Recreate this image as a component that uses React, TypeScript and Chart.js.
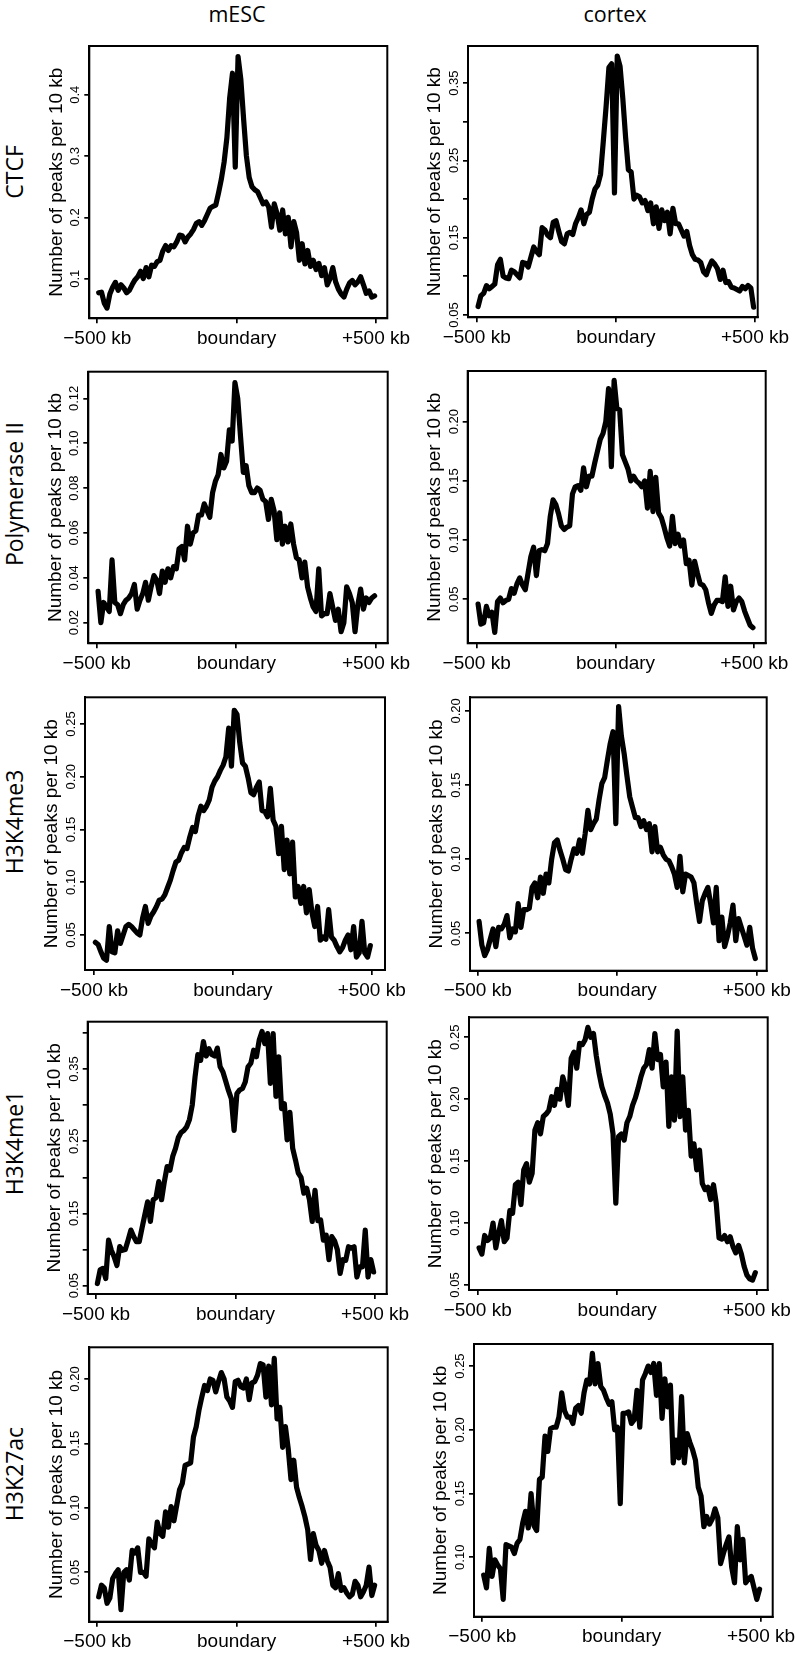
import React, { useEffect, useRef } from 'react';
import { Chart, registerables } from 'chart.js';

Chart.register(...registerables);

// ---------------- data ----------------
const BIN_KB = 10;
const BIN_COUNT = 100;
// bin centres, -495 kb ... +495 kb
const binCentersKb: number[] = Array.from({ length: BIN_COUNT }, (_, i) => -500 + BIN_KB / 2 + BIN_KB * i);

const xTickValues = [-500, 0, 500];
const xTickLabels = ['\u2212500 kb', 'boundary', '+500 kb'];
const columnTitles = ['mESC', 'cortex'];
const rowLabels = ['CTCF', 'Polymerase II', 'H3K4me3', 'H3K4me1', 'H3K27ac'];
const yAxisTitle = 'Number of peaks per 10 kb';

const ctcfMesc = [
  0.077, 0.078, 0.060, 0.052, 0.075, 0.086, 0.094, 0.081, 0.090, 0.085,
  0.077, 0.081, 0.090, 0.098, 0.103, 0.112, 0.100, 0.118, 0.103, 0.122,
  0.120, 0.128, 0.130, 0.145, 0.154, 0.146, 0.154, 0.152, 0.160, 0.171,
  0.170, 0.160, 0.168, 0.173, 0.180, 0.190, 0.193, 0.187, 0.195, 0.205,
  0.215, 0.218, 0.220, 0.240, 0.262, 0.290, 0.330, 0.395, 0.435, 0.282,
  0.462, 0.425, 0.360, 0.300, 0.265, 0.250, 0.245, 0.242, 0.232, 0.222,
  0.225, 0.217, 0.184, 0.222, 0.206, 0.179, 0.212, 0.173, 0.200, 0.152,
  0.193, 0.175, 0.130, 0.157, 0.124, 0.146, 0.120, 0.130, 0.115, 0.125,
  0.105, 0.118, 0.090, 0.100, 0.118, 0.095, 0.083, 0.075, 0.070, 0.083,
  0.093, 0.097, 0.090, 0.095, 0.103, 0.090, 0.076, 0.080, 0.070, 0.072,
];
const ctcfCortex = [
  0.061, 0.075, 0.078, 0.088, 0.084, 0.087, 0.090, 0.115, 0.122, 0.100,
  0.098, 0.097, 0.108, 0.106, 0.102, 0.098, 0.118, 0.117, 0.112, 0.125,
  0.138, 0.132, 0.128, 0.163, 0.160, 0.153, 0.150, 0.170, 0.172, 0.158,
  0.145, 0.142, 0.155, 0.157, 0.154, 0.168, 0.176, 0.186, 0.168, 0.180,
  0.183, 0.200, 0.213, 0.218, 0.232, 0.275, 0.320, 0.370, 0.375, 0.208,
  0.385, 0.372, 0.330, 0.280, 0.238, 0.235, 0.200, 0.205, 0.203, 0.195,
  0.198, 0.185, 0.195, 0.168, 0.190, 0.162, 0.186, 0.172, 0.183, 0.155,
  0.188, 0.168, 0.168, 0.160, 0.152, 0.158, 0.140, 0.128, 0.122, 0.121,
  0.118, 0.106, 0.102, 0.112, 0.120, 0.116, 0.110, 0.096, 0.108, 0.092,
  0.093, 0.086, 0.085, 0.083, 0.081, 0.087, 0.084, 0.088, 0.085, 0.060,
];
const polIIMesc = [
  0.034, 0.020, 0.029, 0.027, 0.025, 0.048, 0.029, 0.028, 0.024, 0.028,
  0.030, 0.031, 0.033, 0.037, 0.026, 0.030, 0.033, 0.038, 0.030, 0.036,
  0.041, 0.039, 0.033, 0.043, 0.038, 0.044, 0.040, 0.045, 0.044, 0.053,
  0.054, 0.048, 0.063, 0.055, 0.060, 0.061, 0.068, 0.068, 0.073, 0.070,
  0.067, 0.078, 0.083, 0.086, 0.095, 0.089, 0.092, 0.106, 0.101, 0.127,
  0.120, 0.103, 0.087, 0.090, 0.081, 0.078, 0.078, 0.080, 0.079, 0.075,
  0.074, 0.066, 0.075, 0.070, 0.057, 0.069, 0.055, 0.063, 0.056, 0.064,
  0.055, 0.049, 0.048, 0.040, 0.047, 0.036, 0.031, 0.027, 0.025, 0.044,
  0.023, 0.024, 0.024, 0.033, 0.027, 0.021, 0.026, 0.016, 0.020, 0.036,
  0.033, 0.029, 0.016, 0.028, 0.035, 0.026, 0.031, 0.029, 0.031, 0.032,
];
const polIICortex = [
  0.046, 0.029, 0.030, 0.044, 0.036, 0.039, 0.022, 0.048, 0.051, 0.047,
  0.049, 0.050, 0.059, 0.055, 0.063, 0.068, 0.062, 0.058, 0.072, 0.086,
  0.094, 0.070, 0.091, 0.092, 0.091, 0.097, 0.120, 0.134, 0.130, 0.122,
  0.112, 0.109, 0.111, 0.112, 0.139, 0.145, 0.146, 0.142, 0.161, 0.145,
  0.154, 0.154, 0.165, 0.175, 0.185, 0.190, 0.200, 0.228, 0.162, 0.235,
  0.211, 0.210, 0.172, 0.166, 0.160, 0.150, 0.154, 0.150, 0.148, 0.145,
  0.150, 0.127, 0.158, 0.124, 0.153, 0.123, 0.119, 0.111, 0.102, 0.095,
  0.120, 0.097, 0.105, 0.095, 0.100, 0.080, 0.083, 0.062, 0.082, 0.072,
  0.063, 0.062, 0.058, 0.047, 0.038, 0.045, 0.049, 0.049, 0.048, 0.069,
  0.044, 0.061, 0.041, 0.048, 0.051, 0.048, 0.040, 0.034, 0.028, 0.026,
];
const h3k4me3Mesc = [
  0.043, 0.041, 0.034, 0.028, 0.026, 0.058, 0.034, 0.033, 0.054, 0.042,
  0.050, 0.058, 0.060, 0.058, 0.055, 0.052, 0.050, 0.066, 0.077, 0.061,
  0.068, 0.072, 0.077, 0.083, 0.084, 0.088, 0.095, 0.102, 0.111, 0.119,
  0.121, 0.128, 0.133, 0.132, 0.143, 0.152, 0.148, 0.163, 0.172, 0.168,
  0.172, 0.178, 0.190, 0.196, 0.200, 0.206, 0.211, 0.219, 0.246, 0.210,
  0.263, 0.259, 0.232, 0.213, 0.210, 0.199, 0.185, 0.183, 0.190, 0.195,
  0.168, 0.167, 0.162, 0.189, 0.159, 0.153, 0.127, 0.153, 0.112, 0.140,
  0.108, 0.138, 0.086, 0.096, 0.080, 0.096, 0.071, 0.093, 0.071, 0.058,
  0.077, 0.045, 0.048, 0.046, 0.074, 0.048, 0.045, 0.039, 0.034, 0.038,
  0.045, 0.050, 0.036, 0.058, 0.029, 0.033, 0.063, 0.033, 0.029, 0.040,
];
const h3k4me3Cortex = [
  0.058, 0.042, 0.035, 0.039, 0.046, 0.053, 0.041, 0.054, 0.053, 0.056,
  0.062, 0.047, 0.053, 0.051, 0.070, 0.054, 0.066, 0.066, 0.067, 0.081,
  0.084, 0.074, 0.088, 0.077, 0.090, 0.084, 0.100, 0.111, 0.113, 0.106,
  0.100, 0.093, 0.092, 0.100, 0.107, 0.104, 0.113, 0.104, 0.117, 0.133,
  0.120, 0.124, 0.127, 0.140, 0.151, 0.155, 0.167, 0.178, 0.186, 0.124,
  0.203, 0.183, 0.171, 0.156, 0.142, 0.135, 0.128, 0.128, 0.122, 0.126,
  0.120, 0.124, 0.105, 0.122, 0.105, 0.108, 0.103, 0.100, 0.099, 0.095,
  0.090, 0.081, 0.102, 0.078, 0.090, 0.089, 0.088, 0.084, 0.070, 0.058,
  0.072, 0.077, 0.081, 0.070, 0.057, 0.081, 0.045, 0.061, 0.041, 0.048,
  0.057, 0.069, 0.045, 0.060, 0.054, 0.048, 0.042, 0.054, 0.040, 0.033,
];
const h3k4me1Mesc = [
  0.053, 0.072, 0.074, 0.060, 0.113, 0.099, 0.090, 0.078, 0.104, 0.099,
  0.100, 0.113, 0.127, 0.118, 0.111, 0.111, 0.130, 0.148, 0.166, 0.139,
  0.169, 0.172, 0.194, 0.169, 0.194, 0.215, 0.210, 0.229, 0.240, 0.255,
  0.262, 0.265, 0.270, 0.280, 0.300, 0.339, 0.370, 0.362, 0.388, 0.368,
  0.378, 0.370, 0.368, 0.379, 0.353, 0.346, 0.333, 0.320, 0.309, 0.265,
  0.316, 0.321, 0.323, 0.332, 0.353, 0.358, 0.376, 0.367, 0.390, 0.402,
  0.385, 0.399, 0.330, 0.399, 0.312, 0.367, 0.295, 0.302, 0.252, 0.290,
  0.240, 0.224, 0.206, 0.200, 0.178, 0.185, 0.169, 0.139, 0.182, 0.140,
  0.141, 0.113, 0.120, 0.086, 0.118, 0.112, 0.100, 0.067, 0.086, 0.085,
  0.104, 0.102, 0.104, 0.062, 0.076, 0.076, 0.127, 0.062, 0.086, 0.069,
];
const h3k4me1Cortex = [
  0.080, 0.075, 0.090, 0.086, 0.088, 0.100, 0.080, 0.092, 0.102, 0.085,
  0.088, 0.110, 0.108, 0.131, 0.133, 0.115, 0.143, 0.148, 0.133, 0.140,
  0.175, 0.181, 0.172, 0.186, 0.188, 0.191, 0.202, 0.195, 0.208, 0.200,
  0.218, 0.210, 0.195, 0.233, 0.238, 0.225, 0.245, 0.244, 0.248, 0.258,
  0.250, 0.253, 0.235, 0.221, 0.210, 0.203, 0.197, 0.188, 0.172, 0.116,
  0.170, 0.172, 0.167, 0.181, 0.186, 0.195, 0.201, 0.209, 0.218, 0.225,
  0.228, 0.240, 0.225, 0.253, 0.232, 0.236, 0.210, 0.230, 0.178, 0.218,
  0.183, 0.255, 0.186, 0.218, 0.175, 0.191, 0.154, 0.164, 0.143, 0.159,
  0.132, 0.127, 0.129, 0.119, 0.131, 0.116, 0.088, 0.087, 0.090, 0.085,
  0.089, 0.081, 0.076, 0.082, 0.075, 0.065, 0.058, 0.055, 0.054, 0.060,
];
const h3k27acMesc = [
  0.031, 0.040, 0.038, 0.026, 0.030, 0.045, 0.049, 0.052, 0.021, 0.050,
  0.052, 0.044, 0.067, 0.065, 0.069, 0.050, 0.050, 0.047, 0.076, 0.072,
  0.069, 0.089, 0.080, 0.078, 0.097, 0.085, 0.101, 0.090, 0.102, 0.114,
  0.119, 0.133, 0.134, 0.135, 0.155, 0.163, 0.176, 0.186, 0.195, 0.191,
  0.200, 0.199, 0.190, 0.198, 0.205, 0.200, 0.186, 0.183, 0.178, 0.198,
  0.199, 0.194, 0.193, 0.200, 0.184, 0.197, 0.198, 0.203, 0.212, 0.211,
  0.186, 0.210, 0.180, 0.216, 0.169, 0.178, 0.147, 0.163, 0.146, 0.122,
  0.137, 0.116, 0.108, 0.101, 0.093, 0.083, 0.060, 0.080, 0.071, 0.067,
  0.057, 0.067, 0.059, 0.054, 0.040, 0.038, 0.049, 0.036, 0.038, 0.034,
  0.031, 0.033, 0.043, 0.040, 0.031, 0.035, 0.040, 0.054, 0.032, 0.040,
];
const h3k27acCortex = [
  0.086, 0.076, 0.107, 0.085, 0.098, 0.094, 0.091, 0.067, 0.110, 0.109,
  0.108, 0.103, 0.111, 0.114, 0.127, 0.136, 0.123, 0.150, 0.125, 0.121,
  0.161, 0.163, 0.195, 0.183, 0.201, 0.202, 0.202, 0.210, 0.229, 0.215,
  0.210, 0.210, 0.205, 0.217, 0.219, 0.213, 0.229, 0.239, 0.236, 0.260,
  0.236, 0.252, 0.234, 0.231, 0.225, 0.220, 0.222, 0.200, 0.202, 0.142,
  0.213, 0.213, 0.214, 0.205, 0.208, 0.231, 0.202, 0.239, 0.244, 0.250,
  0.245, 0.252, 0.227, 0.252, 0.209, 0.240, 0.218, 0.235, 0.174, 0.192,
  0.178, 0.226, 0.174, 0.197, 0.190, 0.184, 0.176, 0.155, 0.148, 0.124,
  0.132, 0.126, 0.130, 0.138, 0.131, 0.095, 0.103, 0.110, 0.116, 0.092,
  0.080, 0.124, 0.098, 0.114, 0.080, 0.083, 0.085, 0.076, 0.067, 0.075,
];

// y-axis ticks (value + printed label, '' = unlabelled tick)
const yTicksCtcfMesc = [0.1, 0.2, 0.3, 0.4];
const yLabelsCtcfMesc = ['0.1', '0.2', '0.3', '0.4'];
const yTicksCtcfCortex = [0.05, 0.1, 0.15, 0.2, 0.25, 0.3, 0.35];
const yLabelsCtcfCortex = ['0.05', '', '0.15', '', '0.25', '', '0.35'];
const yTicksPolIIMesc = [0.02, 0.04, 0.06, 0.08, 0.1, 0.12];
const yLabelsPolIIMesc = ['0.02', '0.04', '0.06', '0.08', '0.10', '0.12'];
const yTicksPolIICortex = [0.05, 0.1, 0.15, 0.2];
const yLabelsPolIICortex = ['0.05', '0.10', '0.15', '0.20'];
const yTicksH3k4me3Mesc = [0.05, 0.1, 0.15, 0.2, 0.25];
const yLabelsH3k4me3Mesc = ['0.05', '0.10', '0.15', '0.20', '0.25'];
const yTicksH3k4me3Cortex = [0.05, 0.1, 0.15, 0.2];
const yLabelsH3k4me3Cortex = ['0.05', '0.10', '0.15', '0.20'];
const yTicksH3k4me1Mesc = [0.05, 0.1, 0.15, 0.2, 0.25, 0.3, 0.35, 0.4];
const yLabelsH3k4me1Mesc = ['0.05', '', '0.15', '', '0.25', '', '0.35', ''];
const yTicksH3k4me1Cortex = [0.05, 0.1, 0.15, 0.2, 0.25];
const yLabelsH3k4me1Cortex = ['0.05', '0.10', '0.15', '0.20', '0.25'];
const yTicksH3k27acMesc = [0.05, 0.1, 0.15, 0.2];
const yLabelsH3k27acMesc = ['0.05', '0.10', '0.15', '0.20'];
const yTicksH3k27acCortex = [0.1, 0.15, 0.2, 0.25];
const yLabelsH3k27acCortex = ['0.10', '0.15', '0.20', '0.25'];

// ---------------- layout ----------------
type PanelCfg = {
  values: number[];
  yTicks: number[];
  yLabels: string[];
  xRange: [number, number];
  yRange: [number, number];
  box: [number, number, number, number]; // left, top, right, bottom (page px)
};

const panels: PanelCfg[] = [
  { values: ctcfMesc, yTicks: yTicksCtcfMesc, yLabels: yLabelsCtcfMesc, xRange: [-528.7, 540.5], yRange: [0.0354, 0.4794], box: [89.3, 46, 387.3, 318.3] },
  { values: ctcfCortex, yTicks: yTicksCtcfCortex, yLabels: yLabelsCtcfCortex, xRange: [-531.3, 509.7], yRange: [0.047, 0.398], box: [468, 46, 757.7, 317.3] },
  { values: polIIMesc, yTicks: yTicksPolIIMesc, yLabels: yLabelsPolIIMesc, xRange: [-530, 541.9], yRange: [0.0108, 0.1319], box: [88.3, 371.7, 387.7, 643.3] },
  { values: polIICortex, yTicks: yTicksPolIICortex, yLabels: yLabelsPolIICortex, xRange: [-532.4, 541], yRange: [0.0128, 0.2428], box: [467.7, 371, 765.7, 643.3] },
  { values: h3k4me3Mesc, yTicks: yTicksH3k4me3Mesc, yLabels: yLabelsH3k4me3Mesc, xRange: [-532.4, 547.9], yRange: [0.0168, 0.2753], box: [85, 697.3, 385, 970] },
  { values: h3k4me3Cortex, yTicks: yTicksH3k4me3Cortex, yLabels: yLabelsH3k4me3Cortex, xRange: [-527.6, 535.8], yRange: [0.0248, 0.2092], box: [470, 697.3, 766.7, 970.7] },
  { values: h3k4me1Mesc, yTicks: yTicksH3k4me1Mesc, yLabels: yLabelsH3k4me1Mesc, xRange: [-529.7, 541.9], yRange: [0.0385, 0.4155], box: [87.7, 1021.7, 386.7, 1294] },
  { values: h3k4me1Cortex, yTicks: yTicksH3k4me1Cortex, yLabels: yLabelsH3k4me1Cortex, xRange: [-531.2, 539.4], yRange: [0.046, 0.2661], box: [469, 1017.3, 767.7, 1290] },
  { values: h3k27acMesc, yTicks: yTicksH3k27acMesc, yLabels: yLabelsH3k27acMesc, xRange: [-528.7, 542], yRange: [0.0117, 0.2246], box: [89.3, 1347.3, 387.7, 1621.7] },
  { values: h3k27acCortex, yTicks: yTicksH3k27acCortex, yLabels: yLabelsH3k27acCortex, xRange: [-529.8, 542], yRange: [0.0534, 0.2673], box: [474, 1344, 772.7, 1616.7] },
];

const columnTitleCenters = [237, 615];
const rowLabelCenters = [171.7, 494, 821.7, 1143.3, 1474];

const FONT = "'Liberation Sans', Arial, sans-serif";
const LABEL_FONT = "'Open Sans', 'Noto Sans', sans-serif";
const Y_AXIS_W = 50;
const X_AXIS_H = 40;
const TICK_LEN = 5;
const Y_LABEL_OFFSET = 13.5; // centre of y tick labels, left of box
const Y_TITLE_OFFSET = 33; // centre of y-axis title, left of box
const Y_TICK_FONT = 13;
const Y_TITLE_FONT = 19;
const X_TICK_FONT = 19;
const LINE_WIDTH = 5.2;
const CANVAS_W = 440;
const PAD_TOP = 20;
const PAD_BOTTOM_EXTRA = 60;

let measureCtx: CanvasRenderingContext2D | null = null;
function textWidth(s: string, font: string): number {
  if (!measureCtx) measureCtx = document.createElement('canvas').getContext('2d');
  if (!measureCtx) return 0;
  measureCtx.font = font;
  return measureCtx.measureText(s).width;
}

const boxPlugin = {
  id: 'rBox',
  afterDatasetsDraw(chart: any) {
    const { ctx, chartArea: a } = chart;
    ctx.save();
    ctx.strokeStyle = '#000';
    ctx.lineWidth = 2;
    ctx.strokeRect(a.left, a.top, a.right - a.left, a.bottom - a.top);
    ctx.restore();
  },
};

function geometry(cfg: PanelCfg, index: number) {
  const [L, T, R, B] = cfg.box;
  const col = index % 2;
  const left = col === 0 ? 0 : 400;
  const top = Math.floor(T - PAD_TOP);
  const height = Math.ceil(B + PAD_BOTTOM_EXTRA) - top;
  return {
    left,
    top,
    width: CANVAS_W,
    height,
    padding: {
      left: L - left - Y_AXIS_W,
      top: T - top,
      right: left + CANVAS_W - R,
      bottom: top + height - B - X_AXIS_H,
    },
  };
}

function Panel({ cfg, index }: { cfg: PanelCfg; index: number }) {
  const ref = useRef<HTMLCanvasElement | null>(null);
  const g = geometry(cfg, index);

  useEffect(() => {
    if (!ref.current) return;
    const tickFontStr = `${Y_TICK_FONT}px ${FONT}`;
    const widest = Math.max(...cfg.yLabels.map((l) => textWidth(l, tickFontStr)));
    const yTickPadding = Y_LABEL_OFFSET - TICK_LEN - widest / 2;
    const titleLineHeight = 1.2;
    const titlePadTop = Y_AXIS_W - Y_TITLE_OFFSET - (Y_TITLE_FONT * titleLineHeight) / 2;

    const points = binCentersKb.map((x, i) => ({ x, y: cfg.values[i] }));

    const chart = new Chart(ref.current, {
      type: 'line',
      data: {
        datasets: [
          {
            data: points,
            borderColor: '#000',
            borderWidth: LINE_WIDTH,
            pointRadius: 0,
            tension: 0,
            fill: false,
            borderJoinStyle: 'round',
            borderCapStyle: 'round',
          } as any,
        ],
      },
      options: {
        animation: false,
        responsive: false,
        devicePixelRatio: 1,
        events: [],
        layout: { padding: g.padding },
        plugins: { legend: { display: false }, tooltip: { enabled: false } },
        scales: {
          x: {
            type: 'linear',
            position: 'bottom',
            bounds: 'data',
            min: cfg.xRange[0],
            max: cfg.xRange[1],
            afterBuildTicks: (s: any) => {
              s.ticks = xTickValues.map((v) => ({ value: v }));
            },
            afterFit: (s: any) => {
              s.height = X_AXIS_H;
            },
            ticks: {
              autoSkip: false,
              minRotation: 0,
              maxRotation: 0,
              padding: 4,
              color: '#000',
              font: { family: FONT, size: X_TICK_FONT },
              callback: (_v: any, i: number) => xTickLabels[i],
            },
            grid: { drawOnChartArea: false, drawTicks: true, tickLength: TICK_LEN, color: '#000', lineWidth: 1.7 },
            border: { display: true, color: '#000', width: 2 },
          },
          y: {
            type: 'linear',
            position: 'left',
            bounds: 'data',
            min: cfg.yRange[0],
            max: cfg.yRange[1],
            afterBuildTicks: (s: any) => {
              s.ticks = cfg.yTicks.map((v) => ({ value: v }));
            },
            afterFit: (s: any) => {
              s.width = Y_AXIS_W;
            },
            ticks: {
              autoSkip: false,
              minRotation: 90,
              maxRotation: 90,
              crossAlign: 'center',
              padding: yTickPadding,
              color: '#000',
              font: { family: FONT, size: Y_TICK_FONT },
              callback: (_v: any, i: number) => cfg.yLabels[i],
            },
            grid: { drawOnChartArea: false, drawTicks: true, tickLength: TICK_LEN, color: '#000', lineWidth: 1.7 },
            border: { display: true, color: '#000', width: 2 },
            title: {
              display: true,
              text: yAxisTitle,
              color: '#000',
              font: { family: FONT, size: Y_TITLE_FONT, lineHeight: titleLineHeight },
              padding: { top: titlePadTop, bottom: 0 },
            },
          },
        },
      } as any,
      plugins: [boxPlugin],
    });
    return () => chart.destroy();
  }, [cfg, index]);

  return (
    <canvas
      ref={ref}
      width={g.width}
      height={g.height}
      style={{ position: 'absolute', left: g.left, top: g.top, width: g.width, height: g.height }}
    />
  );
}

export default function App() {
  return (
    <div
      style={{
        position: 'absolute',
        left: 0,
        top: 0,
        width: 795,
        height: 1654,
        overflow: 'hidden',
        background: '#fff',
      }}
    >
      {columnTitles.map((t, i) => (
        <div
          key={t}
          style={{
            position: 'absolute',
            left: columnTitleCenters[i] - 100,
            top: -1,
            width: 200,
            height: 30,
            lineHeight: '30px',
            textAlign: 'center',
            fontFamily: LABEL_FONT,
            fontSize: 21.5,
            color: '#000',
            whiteSpace: 'nowrap',
          }}
        >
          {t}
        </div>
      ))}
      {rowLabels.map((t, i) => (
        <div
          key={t}
          style={{
            position: 'absolute',
            left: 14.4 - 120,
            top: rowLabelCenters[i] - 15,
            width: 240,
            height: 30,
            lineHeight: '30px',
            textAlign: 'center',
            fontFamily: LABEL_FONT,
            fontSize: 23,
            color: '#000',
            whiteSpace: 'nowrap',
            transform: 'rotate(-90deg)',
          }}
        >
          {t}
        </div>
      ))}
      {panels.map((p, i) => (
        <Panel key={i} cfg={p} index={i} />
      ))}
    </div>
  );
}
